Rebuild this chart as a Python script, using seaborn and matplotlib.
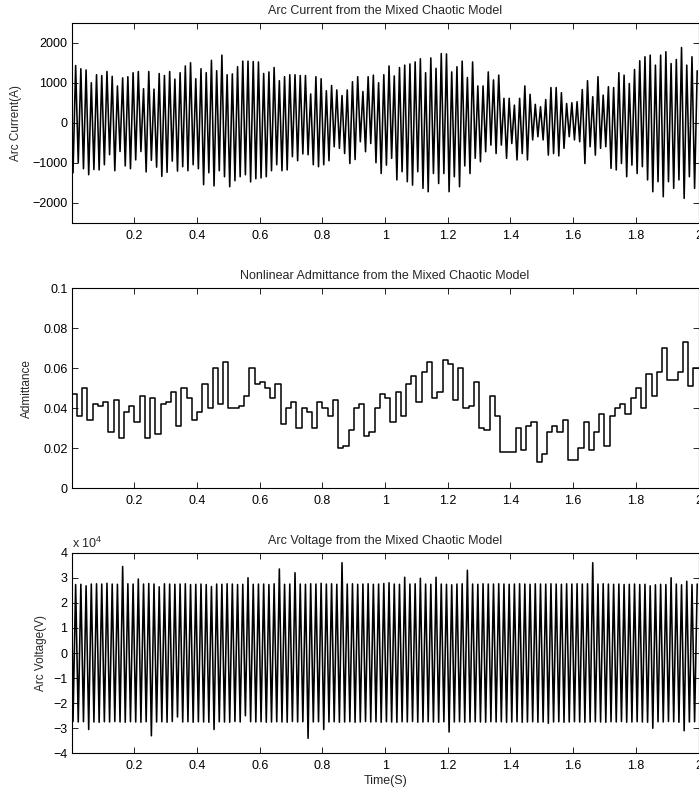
import numpy as np
import pandas as pd
import seaborn as sns
import matplotlib
matplotlib.use("Agg")
import matplotlib.pyplot as plt
from matplotlib.ticker import FuncFormatter

# ---------------- data ----------------
cycle_hz = 60  # one peak / one trough per supply cycle

# Arc current: per-cycle troughs and peaks (A), 12 cycles per 0.2 s
current_peaks = [
    1430, 1350, 1320, 1000, 1200, 1180, 1280, 1160, 920, 1120, 1150, 1250,
    1280, 850, 1280, 840, 1230, 1180, 1280, 1090, 1250, 1420, 1500, 1100,
    1350, 1250, 1560, 1300, 1690, 1200, 1220, 1400, 1540, 1540, 1530, 1520,
    1230, 1270, 1380, 1050, 1150, 1200, 1200, 1180, 1180, 720, 1150, 1100,
    800, 930, 820, 680, 820, 1025, 1150, 780, 1150, 1190, 1000, 1200,
    1420, 1170, 1380, 1440, 1470, 1520, 1600, 1250, 1620, 1360, 1730, 1720,
    1270, 1400, 1540, 1130, 1520, 920, 920, 1270, 1070, 1190, 610, 610,
    440, 610, 920, 710, 460, 400, 580, 880, 880, 750, 480, 500,
    525, 830, 1050, 650, 1150, 690, 900, 880, 1250, 1190, 980, 1330,
    1550, 1650, 1690, 1440, 1690, 1775, 1480, 1580, 1880, 1440, 1650, 1300,
]
current_troughs = [
    -1250, -1000, -1150, -1300, -1170, -1180, -1050, -800, -1200, -720, -1080, -1150,
    -930, -720, -1230, -940, -1110, -1340, -1240, -960, -1210, -1100, -1200, -1050,
    -1150, -1550, -1250, -1580, -1200, -1350, -1600, -1450, -1350, -1300, -1480, -1400,
    -1380, -1350, -1200, -1050, -1200, -1180, -850, -950, -780, -800, -1050, -1100,
    -1050, -950, -600, -640, -770, -1020, -920, -475, -725, -520, -1000, -1270,
    -1060, -890, -1430, -1225, -1475, -1560, -1225, -1640, -1725, -1270, -1520, -1270,
    -1725, -1350, -1600, -1080, -1270, -890, -975, -725, -560, -770, -560, -890,
    -520, -930, -770, -930, -430, -350, -430, -810, -770, -830, -640, -350,
    -430, -475, -1020, -600, -810, -640, -600, -1140, -1180, -1020, -1350, -1060,
    -1270, -1100, -1430, -1725, -1475, -1850, -1475, -1640, -1430, -1890, -1350, -1640,
]
current_start = 0

# Nonlinear admittance: level held over each cycle
admittance_levels = [
    0.047, 0.036, 0.050, 0.034, 0.042, 0.041, 0.043, 0.028, 0.044, 0.025, 0.038, 0.041,
    0.033, 0.046, 0.025, 0.045, 0.027, 0.042, 0.043, 0.048, 0.031, 0.050, 0.045, 0.034,
    0.038, 0.052, 0.040, 0.060, 0.042, 0.063, 0.040, 0.040, 0.041, 0.046, 0.060, 0.052,
    0.053, 0.050, 0.045, 0.052, 0.032, 0.040, 0.043, 0.030, 0.040, 0.038, 0.030, 0.043,
    0.040, 0.036, 0.044, 0.020, 0.021, 0.029, 0.040, 0.042, 0.026, 0.028, 0.040, 0.047,
    0.045, 0.033, 0.048, 0.036, 0.052, 0.056, 0.043, 0.058, 0.063, 0.045, 0.048, 0.064,
    0.062, 0.044, 0.060, 0.040, 0.041, 0.053, 0.030, 0.029, 0.046, 0.036, 0.018, 0.018,
    0.018, 0.030, 0.019, 0.031, 0.033, 0.013, 0.017, 0.028, 0.031, 0.028, 0.034, 0.014,
    0.014, 0.020, 0.033, 0.019, 0.028, 0.037, 0.021, 0.036, 0.040, 0.042, 0.037, 0.045,
    0.050, 0.040, 0.057, 0.046, 0.058, 0.070, 0.054, 0.054, 0.058, 0.073, 0.051, 0.060,
]

# Arc voltage: per-cycle peaks and troughs (V)
voltage_peaks = [
    27300, 27400, 26800, 27500, 27600, 27500, 27800, 27500, 27400, 34500, 27600, 27500,
    29500, 27500, 27700, 27500, 26400, 27600, 27500, 27400, 27500, 27600, 27300, 27400,
    27500, 27300, 26500, 27500, 27400, 27600, 27500, 27300, 27400, 30000, 27400, 27500,
    27500, 27300, 27600, 33500, 27400, 27500, 32000, 27500, 27400, 27600, 27500, 27800,
    27500, 27600, 27400, 36000, 27500, 27600, 27400, 27500, 27600, 27400, 27500, 27700,
    28000, 27500, 27400, 30200, 27500, 27600, 29800, 27500, 27400, 30200, 27500, 27400,
    27200, 27500, 27600, 33000, 27500, 27400, 27600, 27500, 27500, 27600, 27500, 27400,
    27500, 27600, 27500, 27400, 27600, 27500, 27500, 27600, 27500, 27400, 27600, 27500,
    27600, 27500, 27600, 36000, 27500, 27600, 27500, 27400, 27500, 27300, 27400, 27500,
    27300, 27400, 26800, 27200, 27400, 27300, 30000, 27500, 27200, 28600, 27300, 27500,
]
voltage_troughs = [
    -27300, -27500, -27400, -30500, -27500, -27600, -27400, -27500, -27300, -27500, -27600, -27400,
    -27500, -27600, -27400, -33000, -27500, -27400, -27600, -27300, -25500, -27500, -27400, -27600,
    -27400, -27500, -27600, -30500, -27400, -27500, -27600, -27300, -27500, -25000, -27400, -27500,
    -27400, -27600, -27500, -27400, -27500, -27600, -27300, -27500, -27400, -34000, -27500, -27400,
    -30500, -27500, -27400, -27600, -27500, -27400, -27600, -27500, -27300, -27500, -27400, -27600,
    -27400, -27500, -27600, -27400, -27500, -27300, -27600, -27500, -27400, -27500, -27600, -27400,
    -31500, -27500, -27400, -27600, -27500, -27400, -27500, -27600, -27400, -27500, -27400, -27600,
    -27500, -27400, -27600, -27500, -27400, -27600, -27500, -28000, -27500, -27400, -27600, -27500,
    -27400, -27500, -27600, -27500, -27400, -27500, -27600, -27400, -27500, -27300, -27600, -27500,
    -27400, -27500, -27600, -30000, -27400, -27500, -27300, -27400, -27600, -31000, -27500, -27400,
]
voltage_start = 23500

titles = ["Arc Current from the Mixed Chaotic Model",
          "Nonlinear Admittance from the Mixed Chaotic Model",
          "Arc Voltage from the Mixed Chaotic Model"]
ylabels = ["Arc Current(A)", "Admittance", "Arc Voltage(V)"]
xlabel = "Time(S)"
x_ticks = [0.2, 0.4, 0.6, 0.8, 1.0, 1.2, 1.4, 1.6, 1.8, 2.0]
current_yticks = [-2000, -1000, 0, 1000, 2000]
admittance_yticks = [0, 0.02, 0.04, 0.06, 0.08, 0.1]
voltage_yticks = [-40000, -30000, -20000, -10000, 0, 10000, 20000, 30000, 40000]


def zigzag(start, troughs, peaks):
    n = len(peaks)
    k = np.arange(n)
    t = np.empty(2 * n + 1)
    v = np.empty(2 * n + 1)
    t[0], v[0] = 0.0, start
    t[1::2] = (k + 0.25) / cycle_hz
    t[2::2] = (k + 0.75) / cycle_hz
    v[1::2] = troughs
    v[2::2] = peaks
    return pd.DataFrame({"t": t, "v": v})


df_i = zigzag(current_start, current_troughs, current_peaks)
df_v = zigzag(voltage_start, voltage_troughs, voltage_peaks)
df_g = pd.DataFrame({"t": np.arange(len(admittance_levels) + 1) / cycle_hz,
                     "v": admittance_levels + [admittance_levels[-1]]})

# ---------------- style ----------------
sns.set_style("ticks")
plt.rcParams["font.family"] = ["Liberation Sans", "DejaVu Sans"]
plt.rcParams["mathtext.fontset"] = "custom"
plt.rcParams["mathtext.rm"] = "Liberation Sans"
plt.rcParams["mathtext.it"] = "Liberation Sans"
plt.rcParams["axes.linewidth"] = 0.8

fig = plt.figure(figsize=(6.99, 7.89), dpi=100)
positions = [[0.1026, 0.7177, 0.8967, 0.2535],
             [0.1026, 0.3811, 0.8967, 0.2535],
             [0.1026, 0.0452, 0.8967, 0.2543]]
axes = [fig.add_axes(p) for p in positions]

sns.lineplot(data=df_i, x="t", y="v", ax=axes[0], color="black",
             linewidth=1.15, estimator=None, sort=False)
sns.lineplot(data=df_g, x="t", y="v", ax=axes[1], color="black",
             linewidth=1.1, estimator=None, sort=False, drawstyle="steps-post")
sns.lineplot(data=df_v, x="t", y="v", ax=axes[2], color="black",
             linewidth=1.15, estimator=None, sort=False)

ylims = [(-2500, 2500), (0, 0.1), (-40000, 40000)]
yticks = [current_yticks, admittance_yticks, voltage_yticks]
label_x = [-0.079, -0.0616, -0.039]

for i, ax in enumerate(axes):
    ax.set_xlim(0, 2)
    ax.set_ylim(*ylims[i])
    ax.set_xticks(x_ticks)
    ax.set_yticks(yticks[i])
    ax.xaxis.set_major_formatter(FuncFormatter(lambda v, p: f"{v:g}"))
    ax.tick_params(direction="in", length=4, width=0.6, top=True, right=True,
                   labelsize=9, colors="black")
    ax.tick_params(axis="x", pad=5)
    ax.tick_params(axis="y", pad=3)
    for s in ax.spines.values():
        s.set_visible(True)
        s.set_color("black")
        s.set_linewidth(0.8)
    ax.set_title(titles[i], fontsize=9, pad=6.5)
    ax.set_ylabel(ylabels[i], fontsize=8.5)
    ax.yaxis.set_label_coords(label_x[i], 0.5)
    ax.set_xlabel("")

axes[1].yaxis.set_major_formatter(FuncFormatter(lambda v, p: f"{v:g}"))
axes[2].yaxis.set_major_formatter(
    FuncFormatter(lambda v, p: f"{v / 1e4:g}".replace("-", "\u2212")))
axes[2].text(0.0, 1.01, r"x 10$^{4}$", transform=axes[2].transAxes,
             ha="left", va="bottom", fontsize=9)
axes[2].set_xlabel(xlabel, fontsize=9, labelpad=2)

fig.savefig("out.png", dpi=100)
